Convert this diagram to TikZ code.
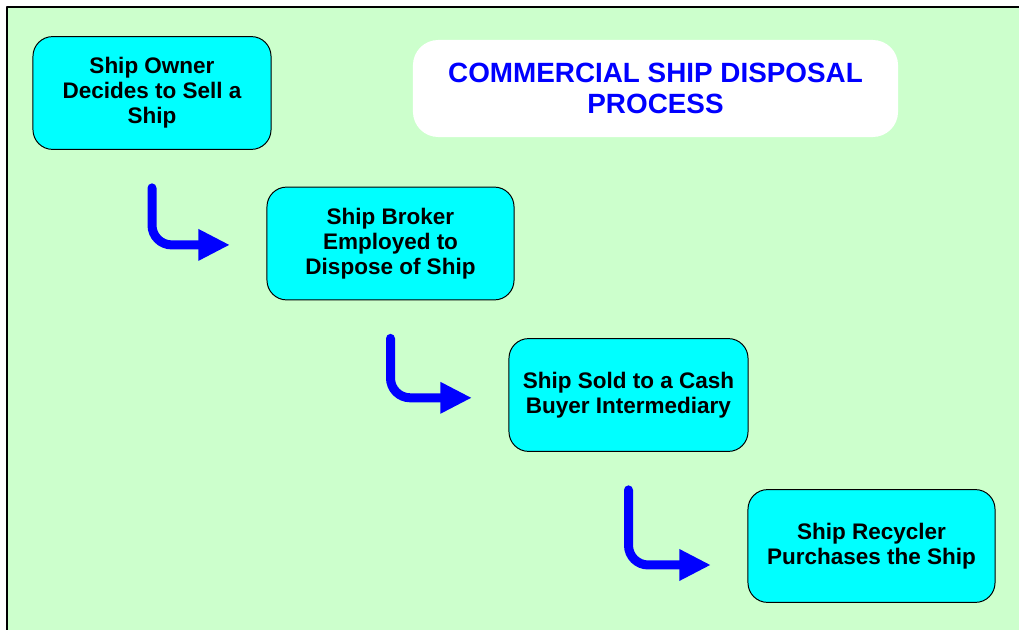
\documentclass[tikz,border=0pt]{standalone}
\usepackage{fontspec}
\setmainfont{Liberation Sans}
\usetikzlibrary{arrows.meta}
\definecolor{bggreen}{RGB}{204,255,204}
\definecolor{boxcyan}{RGB}{0,255,255}
\begin{document}
\begin{tikzpicture}[x=0.025cm, y=-0.025cm, line join=round,
	stepbox/.style={draw=black, line width=0.7pt, fill=boxcyan, rounded corners=14pt, align=center,
		minimum height=2.82cm, inner sep=0pt, font=\bfseries\fontsize{16}{17.8}\selectfont},
	flow/.style={draw=blue, line width=6.4pt, line cap=round, rounded corners=14pt,
		-{Triangle[length=22.5pt,width=21pt]}, shorten <=27pt, shorten >=26pt}]
	\useasboundingbox (0,0) rectangle (1019,630);
	% nen va khung
	\fill[bggreen] (7,7) rectangle (1019,630);
	\draw[line width=1pt] (7,630)--(7,7)--(1019,7);
	% tieu de
	\node[fill=white, rounded corners=18pt, minimum width=12.125cm, minimum height=2.425cm, align=center,
		text=blue, font=\bfseries\fontsize{19.8}{22}\selectfont] (title) at (655.5,88.5)
		{COMMERCIAL SHIP DISPOSAL\\PROCESS};
	% cac buoc
	\node[stepbox, minimum width=5.95cm] (owner) at (152,93) {Ship Owner\\Decides to Sell a\\Ship};
	\node[stepbox, minimum width=6.175cm] (broker) at (390.5,243.5) {Ship Broker\\Employed to\\Dispose of Ship};
	\node[stepbox, minimum width=5.975cm] (buyer) at (628.5,395) {Ship Sold to a Cash\\Buyer Intermediary};
	\node[stepbox, minimum width=6.175cm] (recycler) at (871.5,546) {Ship Recycler\\Purchases the Ship};
	% mui ten
	\draw[flow] (owner.south) |- ([yshift=-1pt]broker.west);
	\draw[flow] (broker.south) |- ([yshift=-2pt]buyer.west);
	\draw[flow] (buyer.south) |- ([yshift=-13.5pt]recycler.west);
\end{tikzpicture}
\end{document}
